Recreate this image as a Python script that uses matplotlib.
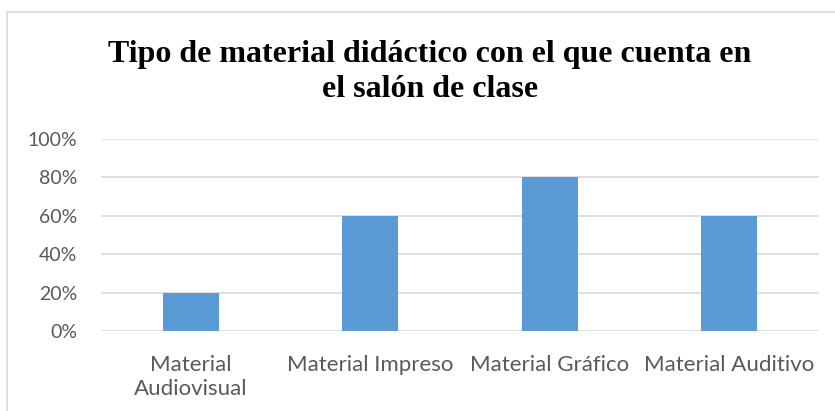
import numpy as np
import matplotlib.pyplot as plt
from matplotlib.patches import Rectangle
from matplotlib.ticker import PercentFormatter

categories = ["Material\nAudiovisual", "Material Impreso", "Material Gráfico", "Material Auditivo"]
values = [0.20, 0.60, 0.80, 0.60]
yticks = [0, 0.2, 0.4, 0.6, 0.8, 1.0]

W, H = 835, 411
fig = plt.figure(figsize=(W / 100, H / 100), dpi=100)

# light frame round the chart area
fig.patches.append(Rectangle((7 / W, -0.05), 1.2, (H - 12) / H + 0.05,
                             transform=fig.transFigure, fill=False,
                             edgecolor="#d9d9d9", linewidth=1.2))

ax = fig.add_axes([101 / W, (H - 331) / H, (819 - 101) / W, (331 - 139) / H])
x = np.arange(len(categories))
ax.bar(x, values, width=0.31, color="#5b9bd5", zorder=3)

ax.set_ylim(0, 1)
ax.set_xlim(-0.5, len(categories) - 0.5)
ax.set_yticks(yticks)
ax.yaxis.set_major_formatter(PercentFormatter(1.0, decimals=0))
ax.set_xticks(x)
ax.set_xticklabels(categories, linespacing=1.25)
ax.grid(axis="y", color="#d9d9d9", linewidth=1.2, zorder=0)
for s in ax.spines.values():
    s.set_visible(False)
ax.tick_params(axis="both", length=0, labelcolor="#595959")
ax.tick_params(axis="x", pad=17, labelsize=16)
ax.tick_params(axis="y", pad=17, labelsize=14)
for lab in ax.get_xticklabels() + ax.get_yticklabels():
    lab.set_family("Lato")

fig.text(430 / W, 1 - 72 / H, "Tipo de material didáctico con el que cuenta en\nel salón de clase",
         ha="center", va="center", fontsize=23, fontweight="bold",
         family="Liberation Serif", linespacing=1.3)

fig.savefig("out.png", dpi=100)
